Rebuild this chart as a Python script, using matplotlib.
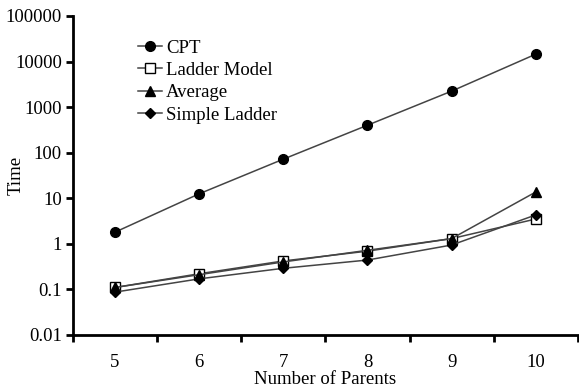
import numpy as np
import matplotlib
matplotlib.use("Agg")
import matplotlib.pyplot as plt
from matplotlib.ticker import FixedLocator, FixedFormatter, NullLocator

plt.rcParams['font.family'] = ['Liberation Serif', 'DejaVu Serif']

parents = [5, 6, 7, 8, 9, 10]
cpt = [1.8, 12.5, 72, 400, 2240, 14500]
ladder_model = [0.11, 0.22, 0.42, 0.69, 1.3, 3.5]
average = [0.11, 0.21, 0.40, 0.72, 1.3, 13.7]
simple_ladder = [0.087, 0.17, 0.29, 0.44, 0.94, 4.3]

y_ticks = [0.01, 0.1, 1, 10, 100, 1000, 10000, 100000]
y_labels = ["0.01", "0.1", "1", "10", "100", "1000", "10000", "100000"]

fs = 13.5

fig = plt.figure(figsize=(5.79, 3.89), dpi=100)
ax = fig.add_axes([0.126, 0.139, 0.872, 0.82])

line_kw = dict(color="#444444", lw=1.1, markeredgecolor="black")
ax.plot(parents, cpt, marker="o", ms=7, markerfacecolor="black", label="CPT", **line_kw)
ax.plot(parents, ladder_model, marker="s", ms=6.5, markerfacecolor="white", label="Ladder Model", **line_kw)
ax.plot(parents, average, marker="^", ms=7, markerfacecolor="black", label="Average", **line_kw)
ax.plot(parents, simple_ladder, marker="D", ms=5.5, markerfacecolor="black", label="Simple Ladder", **line_kw)

ax.set_yscale("log")
ax.set_ylim(0.01, 100000)
ax.yaxis.set_major_locator(FixedLocator(y_ticks))
ax.yaxis.set_major_formatter(FixedFormatter(y_labels))
ax.yaxis.set_minor_locator(NullLocator())

ax.set_xlim(4.5, 10.5)
ax.set_xticks(parents)
ax.set_xticks(np.arange(4.5, 10.6, 1.0), minor=True)
ax.tick_params(axis="x", which="major", length=0, labelsize=fs, pad=14)
ax.tick_params(axis="x", which="minor", length=5, width=2, direction="out")
ax.tick_params(axis="y", which="major", length=5, width=2, direction="out", labelsize=fs, pad=3)

for side in ("top", "right"):
    ax.spines[side].set_visible(False)
for side in ("left", "bottom"):
    ax.spines[side].set_linewidth(2)

ax.set_xlabel("Number of Parents", fontsize=fs)
ax.xaxis.set_label_coords(0.5, -0.112)
ax.set_ylabel("Time", fontsize=fs)
ax.yaxis.set_label_coords(-0.095, 0.5)

ax.legend(loc="upper left", bbox_to_anchor=(0.114, 0.95), frameon=False, fontsize=fs,
          handlelength=1.3, handletextpad=0.2, labelspacing=0.28, borderaxespad=0)

fig.savefig("out.png", dpi=100)
